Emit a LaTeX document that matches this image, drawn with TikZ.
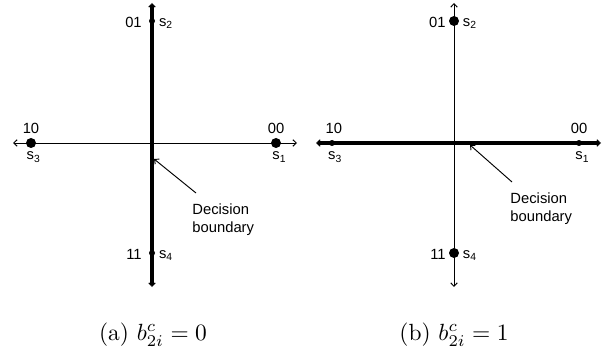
\documentclass[tikz,border=0pt]{standalone}
\usepackage{fontspec}
\newfontfamily\arial{Liberation Sans}
\usetikzlibrary{arrows.meta,positioning}
\newcommand{\sig}[1]{s\textsubscript{#1}}

\tikzset{
  axis/.style={line width=0.4pt,
    {Straight Barb[length=1.5pt,width=2.8pt]}-{Straight Barb[length=1.5pt,width=2.8pt]}},
  boundary/.style={line width=1.6pt, shorten <=1pt, shorten >=1pt},
  pointer/.style={line width=0.4pt, -{Straight Barb[length=1.5pt,width=2.8pt]}},
  lbl/.style={inner sep=0pt, font=\arial\fontsize{6.3}{7.7}\selectfont},
}

\begin{document}
\begin{tikzpicture}[x=0.015cm, y=-0.015cm]
  \useasboundingbox (0,0) rectangle (611,354);
  % (a) boundary on the vertical axis
  \coordinate (aN) at (152,3);
  \coordinate (aS) at (152,287);
  \coordinate (aW) at (13,143);
  \coordinate (aE) at (297,143);
  \draw[axis] (aW) -- (aE);
  \draw[axis] (aN) -- (aS);
  \draw[boundary] (aN) -- (aS);
  % signal points
  \coordinate (s1) at (276,143);
  \coordinate (s2) at (152,21);
  \coordinate (s3) at (31,143);
  \coordinate (s4) at (152,253);
  \fill (s1) circle (5);
  \fill (s3) circle (5);
  \fill (s2) circle (3);
  \fill (s4) circle (3);
  \node[lbl, above=3.8pt of s1] (l00) {00};
  \node[lbl, below=3.6pt of s1, xshift=1.5pt] (ls1) {\sig{1}};
  \node[lbl, above=3.8pt of s3] (l10) {10};
  \node[lbl, below=3.6pt of s3, xshift=1.2pt] (ls3) {\sig{3}};
  \node[lbl, left=4.2pt of s2, yshift=-0.7pt] (l01) {01};
  \node[lbl, right=2.8pt of s2, yshift=-1pt] (ls2) {\sig{2}};
  \node[lbl, left=4.2pt of s4, yshift=-0.7pt] (l11) {11};
  \node[lbl, right=2.8pt of s4, yshift=-1pt] (ls4) {\sig{4}};
  % pointer to the boundary
  \node[lbl, align=left, anchor=north west] (dba) at (192,203) {Decision\\boundary};
  \coordinate (dbaTail) at (196,193);
  \coordinate (dbaTip) at (154,159);
  \draw[pointer] (dbaTail) -- (dbaTip);
  \node[anchor=base] (capa) at (153,340) {(a) $b^c_{2i}=0$};

  % (b) boundary on the horizontal axis
  \coordinate (bN) at (454,3);
  \coordinate (bS) at (454,287);
  \coordinate (bW) at (316,143);
  \coordinate (bE) at (601,143);
  \draw[axis] (bN) -- (bS);
  \draw[axis] (bW) -- (bE);
  \draw[boundary] (bW) -- (bE);
  % signal points
  \coordinate (t1) at (579,143);
  \coordinate (t2) at (454,21);
  \coordinate (t3) at (332,143);
  \coordinate (t4) at (454,253);
  \fill (t2) circle (5);
  \fill (t4) circle (5);
  \fill (t1) circle (3);
  \fill (t3) circle (3);
  \node[lbl, above=3.8pt of t1] (m00) {00};
  \node[lbl, below=3.6pt of t1, xshift=1.5pt] (ms1) {\sig{1}};
  \node[lbl, above=3.8pt of t3, xshift=0.8pt] (m10) {10};
  \node[lbl, below=3.6pt of t3, xshift=1.4pt] (ms3) {\sig{3}};
  \node[lbl, left=3.4pt of t2, yshift=-0.7pt] (m01) {01};
  \node[lbl, right=3.6pt of t2, yshift=-1pt] (ms2) {\sig{2}};
  \node[lbl, left=3.4pt of t4, yshift=-0.7pt] (m11) {11};
  \node[lbl, right=3.6pt of t4, yshift=-1pt] (ms4) {\sig{4}};
  % pointer to the boundary
  \node[lbl, align=left, anchor=north west] (dbb) at (510,192) {Decision\\boundary};
  \coordinate (dbbTail) at (512,182);
  \coordinate (dbbTip) at (470,145);
  \draw[pointer] (dbbTail) -- (dbbTip);
  \node[anchor=base] (capb) at (454,340) {(b) $b^c_{2i}=1$};
\end{tikzpicture}
\end{document}
